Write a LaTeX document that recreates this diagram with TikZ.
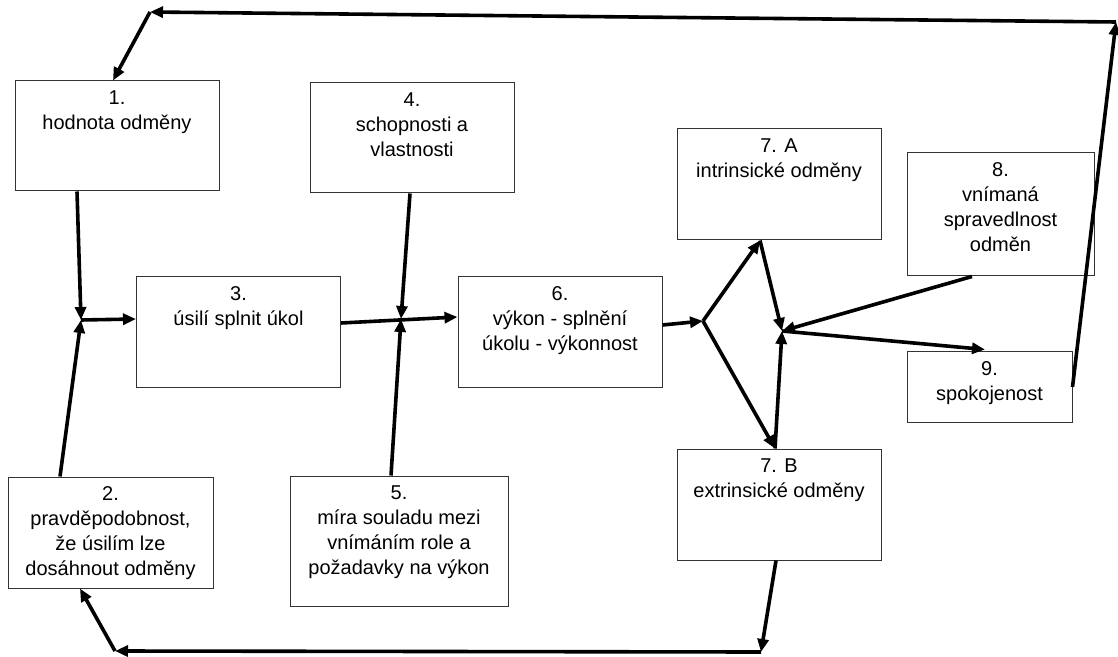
\documentclass[tikz,border=0pt]{standalone}
\usepackage{fontspec}
\setmainfont{Liberation Sans}
\usetikzlibrary{arrows.meta,calc}
\begin{document}
\begin{tikzpicture}[x=0.5pt,y=-0.5pt,
  box/.style={draw=black!80, line width=0.5pt, minimum width=102pt, minimum height=55pt, inner sep=0pt},
  txt/.style={anchor=north, yshift=-5pt, align=center, inner sep=0pt, font=\fontsize{10}{12.5}\selectfont, text=black},
  conn/.style={line width=1.8pt, -{Triangle[length=6.5pt,width=5.5pt]}}]
\useasboundingbox (0,0) rectangle (1118,657);

\node[box, label={[txt]north:{1.\\hodnota odměny}}] (n1) at (117,136) {};
\node[box, minimum width=102.5pt, minimum height=55.5pt, label={[txt]north:{2.\\pravděpodobnost,\\že úsilím lze\\dosáhnout odměny}}] (n2) at (110.5,532.5) {};
\node[box, label={[txt]north:{3.\\úsilí splnit úkol}}] (n3) at (238.5,332) {};
\node[box, label={[txt]north:{4.\\schopnosti a\\vlastnosti}}] (n4) at (412,138) {};
\node[box, minimum width=109pt, minimum height=65pt, label={[txt]north:{5.\\míra souladu mezi\\vnímáním role a\\požadavky na výkon}}] (n5) at (399,541) {};
\node[box, label={[txt]north:{6.\\výkon - splnění\\úkolu - výkonnost}}] (n6) at (560,332) {};
\node[box, minimum height=55.5pt, label={[txt]north:{7. A\\intrinsické odměny}}] (n7a) at (779,184.5) {};
\node[box, minimum height=55.5pt, label={[txt]north:{7. B\\extrinsické odměny}}] (n7b) at (779,504.5) {};
\node[box, minimum width=93.5pt, minimum height=61.5pt, label={[txt]north:{8.\\vnímaná\\spravedlnost\\odměn}}] (n8) at (1000.5,214.5) {};
\node[box, minimum width=82.5pt, minimum height=35pt, label={[txt]north:{9.\\spokojenost}}] (n9) at (989.5,387) {};

\coordinate (j1) at (81,320);
\coordinate (j2) at (401,319);
\coordinate (j3) at (703,321);
\coordinate (j4) at (782,331);
\coordinate (c1) at (1116,22);
\coordinate (c2) at (150,12);
\coordinate (c3) at (761,652);
\coordinate (c4) at (115,651);

\draw[conn] ([xshift=-20pt]n1.south) -- (j1);
\draw[conn] ([xshift=-25.25pt]n2.north) -- (j1);
\draw[conn] (j1) -- ([yshift=6.5pt]n3.west);
\draw[conn] ([xshift=-1pt]n4.south) -- (j2);
\draw[conn] ([xshift=-4pt]n5.north) -- (j2);
\draw[conn] ([yshift=4.5pt]n3.east) -- ([yshift=7.5pt]n6.west);
\draw[conn] ([yshift=3.5pt]n6.east) -- (j3);
\draw[conn] (j3) -- ([xshift=-9.5pt]n7a.south);
\draw[conn] (j3) -- ([xshift=-2pt]n7b.north);
\draw[conn] ([xshift=-9.5pt]n7a.south) -- (j4);
\draw[conn] ([xshift=-14.25pt]n8.south) -- (j4);
\draw[conn] ([xshift=-2pt]n7b.north) -- (j4);
\draw[conn] (j4) -- ([xshift=-2.25pt,yshift=1pt]n9.north);
\draw[conn] (n9.east) -- (c1);
\draw[conn] (c1) -- (c2);
\draw[conn] (c2) -- ([xshift=-2pt]n1.north);
\draw[conn] ([xshift=-1.5pt]n7b.south) -- (c3);
\draw[conn] (c3) -- (c4);
\draw[conn] (c4) -- ([xshift=-15.25pt]n2.south);
\end{tikzpicture}
\end{document}
